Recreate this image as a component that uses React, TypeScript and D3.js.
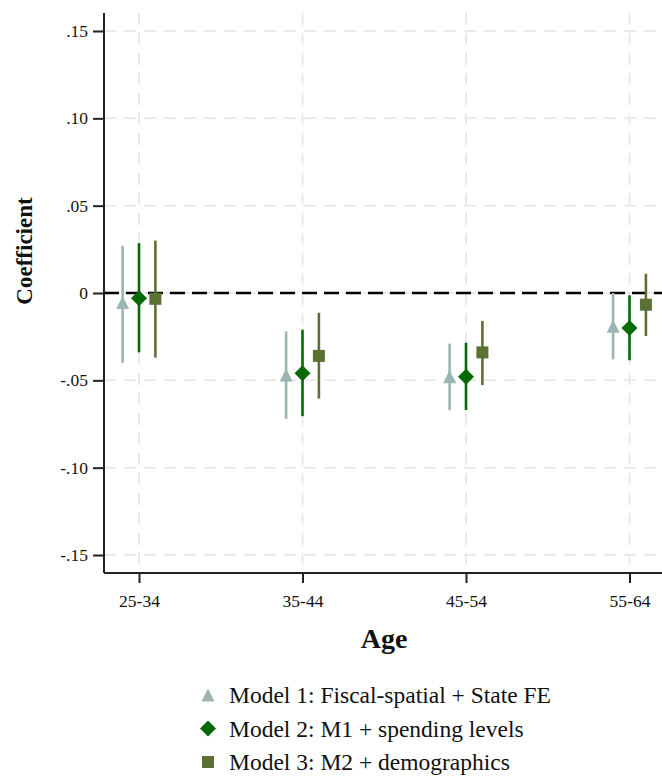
import React, { useRef, useEffect } from "react";
import * as d3 from "d3";

// age groups on the x axis
const ages = ["25-34", "35-44", "45-54", "55-64"];

// Model 1: Fiscal-spatial + State FE
const m1Coef = [-0.0055, -0.047, -0.048, -0.019];
const m1Lo = [-0.040, -0.072, -0.067, -0.038];
const m1Hi = [0.027, -0.022, -0.029, 0.0];

// Model 2: M1 + spending levels
const m2Coef = [-0.003, -0.046, -0.048, -0.020];
const m2Lo = [-0.034, -0.0705, -0.067, -0.0385];
const m2Hi = [0.0285, -0.021, -0.0285, -0.0013];

// Model 3: M2 + demographics
const m3Coef = [-0.0033, -0.036, -0.034, -0.0067];
const m3Lo = [-0.037, -0.0605, -0.0527, -0.0246];
const m3Hi = [0.030, -0.0113, -0.016, 0.011];

const yTicks = [-0.15, -0.1, -0.05, 0, 0.05, 0.1, 0.15];
const modelNames = [
  "Model 1: Fiscal-spatial + State FE",
  "Model 2: M1 + spending levels",
  "Model 3: M2 + demographics",
];

const FONT = "'Liberation Serif', 'Times New Roman', serif";

const fmt = (v: number) => {
  if (v === 0) return "0";
  const s = Math.abs(v).toFixed(2).replace(/^0/, "");
  return (v < 0 ? "-" : "") + s;
};

// marker paths centred on their bounding box
const trianglePath = (s: number) =>
  `M0,${-s / 2}L${s / 2},${s / 2}L${-s / 2},${s / 2}Z`;
const diamondPath = (s: number) =>
  `M0,${-s / 2}L${s / 2},0L0,${s / 2}L${-s / 2},0Z`;
const squarePath = (s: number) =>
  `M${-s / 2},${-s / 2}h${s}v${s}h${-s}Z`;

const App = () => {
  const svgRef = useRef<SVGSVGElement>(null);

  useEffect(() => {
    const W = 662;
    const H = 776;
    const left = 104;
    const top = 13;
    const bottom = 573;

    const svg = d3.select(svgRef.current);
    svg.selectAll("*").remove();
    svg.attr("width", W).attr("height", H);

    const x = d3.scalePoint().domain(ages).range([139, 629.5]);
    const y = d3.scaleLinear().domain([-0.1603, 0.1603]).range([bottom, top]);

    const models = [
      { name: modelNames[0], coef: m1Coef, lo: m1Lo, hi: m1Hi, color: "#9ab5b3", path: trianglePath(13) },
      { name: modelNames[1], coef: m2Coef, lo: m2Lo, hi: m2Hi, color: "#056a05", path: diamondPath(16) },
      { name: modelNames[2], coef: m3Coef, lo: m3Lo, hi: m3Hi, color: "#5b7133", path: squarePath(12) },
    ];
    const offset = d3
      .scalePoint()
      .domain(models.map((m) => m.name))
      .range([-16.4, 16.4]);

    // grid lines
    svg
      .append("g")
      .selectAll("line")
      .data(yTicks)
      .join("line")
      .attr("x1", left)
      .attr("x2", W)
      .attr("y1", (d) => y(d))
      .attr("y2", (d) => y(d))
      .attr("stroke", "#e9e9e9")
      .attr("stroke-width", 2)
      .attr("stroke-dasharray", "12,8");

    svg
      .append("g")
      .selectAll("line")
      .data(ages)
      .join("line")
      .attr("x1", (d) => x(d)!)
      .attr("x2", (d) => x(d)!)
      .attr("y1", top)
      .attr("y2", bottom)
      .attr("stroke", "#e9e9e9")
      .attr("stroke-width", 2)
      .attr("stroke-dasharray", "12,8");

    // zero reference line
    svg
      .append("line")
      .attr("x1", left)
      .attr("x2", W)
      .attr("y1", y(0))
      .attr("y2", y(0))
      .attr("stroke", "#000")
      .attr("stroke-width", 2.5)
      .attr("stroke-dasharray", "15,7");

    // axes
    const yAxis = svg
      .append("g")
      .attr("transform", `translate(${left},0)`)
      .call(
        d3
          .axisLeft(y)
          .tickValues(yTicks)
          .tickFormat((d) => fmt(+d))
          .tickSize(11)
          .tickSizeOuter(0)
          .tickPadding(5)
      );
    yAxis.select(".domain").attr("d", `M0,${top}V${bottom}`);

    const xAxis = svg
      .append("g")
      .attr("transform", `translate(0,${bottom})`)
      .call(d3.axisBottom(x).tickSize(10).tickSizeOuter(0).tickPadding(12));
    xAxis.select(".domain").attr("d", `M${left},0H${W}`);

    [yAxis, xAxis].forEach((g) => {
      g.selectAll(".domain").attr("stroke", "#222").attr("stroke-width", 2);
      g.selectAll(".tick line").attr("stroke", "#222").attr("stroke-width", 2);
      g.selectAll(".tick text")
        .attr("fill", "#111")
        .style("font-family", FONT)
        .style("font-size", "17.5px");
    });

    // axis titles
    svg
      .append("text")
      .attr("transform", `translate(32,251) rotate(-90)`)
      .attr("text-anchor", "middle")
      .style("font-family", FONT)
      .style("font-weight", "bold")
      .style("font-size", "23px")
      .attr("fill", "#111")
      .text("Coefficient");

    svg
      .append("text")
      .attr("x", 384)
      .attr("y", 648)
      .attr("text-anchor", "middle")
      .style("font-family", FONT)
      .style("font-weight", "bold")
      .style("font-size", "28px")
      .attr("fill", "#111")
      .text("Age");

    // whiskers and markers
    models.forEach((m) => {
      const g = svg.append("g");
      const dx = offset(m.name)!;
      g.selectAll("line")
        .data(ages)
        .join("line")
        .attr("x1", (d) => x(d)! + dx)
        .attr("x2", (d) => x(d)! + dx)
        .attr("y1", (d, i) => y(m.lo[i]))
        .attr("y2", (d, i) => y(m.hi[i]))
        .attr("stroke", m.color)
        .attr("stroke-width", 2.6);
      g.selectAll("path")
        .data(ages)
        .join("path")
        .attr("d", m.path)
        .attr("transform", (d, i) => `translate(${x(d)! + dx},${y(m.coef[i])})`)
        .attr("fill", m.color);
    });

    // legend
    const legend = svg
      .selectAll(".legend")
      .data(models)
      .join("g")
      .attr("class", "legend")
      .attr("transform", (d, i) => `translate(208,${695 + i * 33.5})`);

    legend
      .append("path")
      .attr("d", (d) => d.path)
      .attr("fill", (d) => d.color);

    legend
      .append("text")
      .attr("x", 21)
      .attr("y", 0)
      .attr("dy", "0.35em")
      .style("font-family", FONT)
      .style("font-size", "23.5px")
      .attr("fill", "#111")
      .text((d) => d.name);
  }, []);

  return (
    <svg
      ref={svgRef}
      style={{ position: "absolute", left: 0, top: 0, background: "#fff" }}
    ></svg>
  );
};

export default App;
